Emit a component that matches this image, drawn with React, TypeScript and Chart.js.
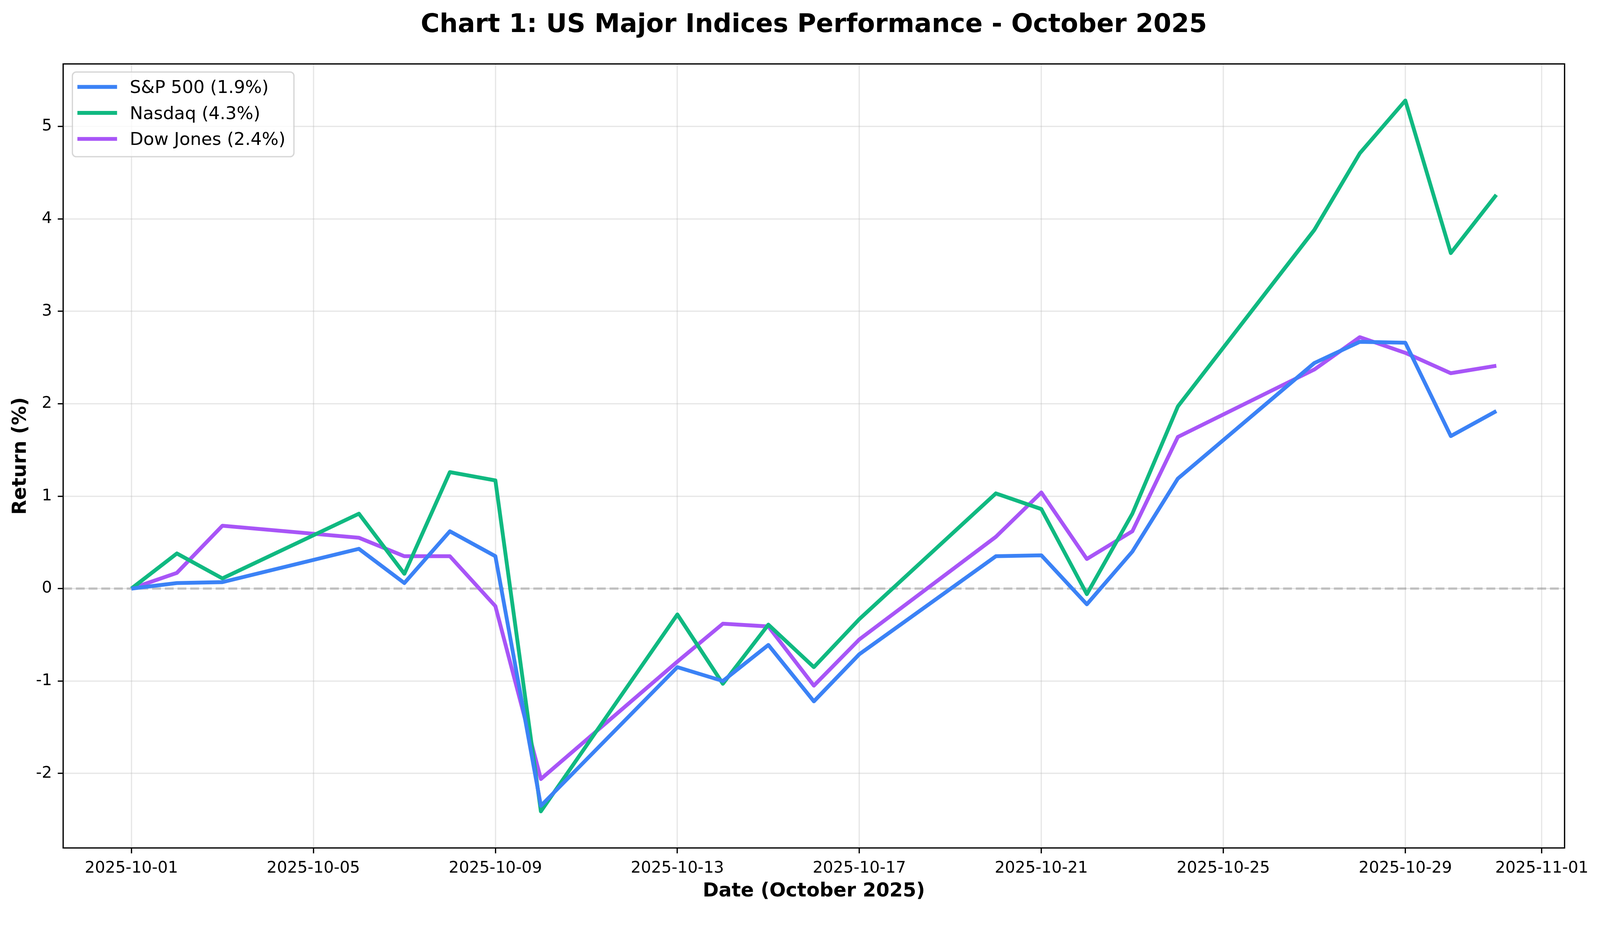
import React, { useEffect, useRef } from 'react';
import { Chart, registerables } from 'chart.js';

Chart.register(...registerables);

const W = 4155;
const H = 2368;

const dates = [
  '2025-10-01', '2025-10-02', '2025-10-03', '2025-10-06', '2025-10-07', '2025-10-08',
  '2025-10-09', '2025-10-10', '2025-10-13', '2025-10-14', '2025-10-15', '2025-10-16',
  '2025-10-17', '2025-10-20', '2025-10-21', '2025-10-22', '2025-10-23', '2025-10-24',
  '2025-10-27', '2025-10-28', '2025-10-29', '2025-10-30', '2025-10-31',
];
const sp500 = [0, 0.06, 0.07, 0.43, 0.06, 0.62, 0.35, -2.35, -0.85, -1.0, -0.61, -1.22, -0.71, 0.35, 0.36, -0.17, 0.4, 1.19, 2.44, 2.67, 2.66, 1.65, 1.92];
const nasdaq = [0, 0.38, 0.11, 0.81, 0.16, 1.26, 1.17, -2.41, -0.28, -1.03, -0.39, -0.85, -0.33, 1.03, 0.86, -0.06, 0.81, 1.97, 3.88, 4.71, 5.28, 3.63, 4.26];
const dow = [0, 0.17, 0.68, 0.55, 0.35, 0.35, -0.19, -2.06, -0.79, -0.38, -0.41, -1.05, -0.55, 0.56, 1.04, 0.32, 0.62, 1.64, 2.37, 2.72, 2.55, 2.33, 2.41];

const seriesLabels = ['S&P 500 (1.9%)', 'Nasdaq (4.3%)', 'Dow Jones (2.4%)'];
const seriesColors = ['#3b82f6', '#10b981', '#a855f7'];

const xTickLabels = ['2025-10-01', '2025-10-05', '2025-10-09', '2025-10-13', '2025-10-17', '2025-10-21', '2025-10-25', '2025-10-29', '2025-11-01'];
const yTicks = [-2, -1, 0, 1, 2, 3, 4, 5];

const chartTitle = 'Chart 1: US Major Indices Performance - October 2025';
const xTitle = 'Date (October 2025)';
const yTitle = 'Return (%)';

const DAY = 86400000;
const origin = Date.parse('2025-10-01T00:00:00Z');
const dayOf = (s: string) => (Date.parse(s + 'T00:00:00Z') - origin) / DAY;

const FONT = '"DejaVu Sans", sans-serif';

function makeDecor(k: number) {
  return {
    id: 'decor',
    beforeDatasetsDraw(chart: any) {
      const { ctx, chartArea: a, scales } = chart;
      const y0 = scales.y.getPixelForValue(0);
      ctx.save();
      ctx.beginPath();
      ctx.rect(a.left, a.top, a.right - a.left, a.bottom - a.top);
      ctx.clip();
      ctx.strokeStyle = 'rgba(128,128,128,0.4)';
      ctx.lineWidth = 6 * k;
      ctx.setLineDash([23 * k, 10 * k]);
      ctx.beginPath();
      ctx.moveTo(a.left, y0);
      ctx.lineTo(a.right, y0);
      ctx.stroke();
      ctx.restore();
    },
    afterDraw(chart: any) {
      const { ctx, chartArea: a } = chart;
      const cx = (a.left + a.right) / 2;
      const cy = (a.top + a.bottom) / 2;
      ctx.save();
      ctx.strokeStyle = '#000';
      ctx.lineWidth = 3.3 * k;
      ctx.setLineDash([]);
      ctx.strokeRect(a.left, a.top, a.right - a.left, a.bottom - a.top);

      ctx.fillStyle = '#000';
      ctx.textAlign = 'center';
      ctx.textBaseline = 'alphabetic';
      ctx.font = `bold ${66.7 * k}px ${FONT}`;
      ctx.fillText(chartTitle, cx, 83 * k);

      ctx.font = `bold ${50 * k}px ${FONT}`;
      ctx.fillText(xTitle, cx, 2328 * k);
      ctx.save();
      ctx.translate(67 * k, cy);
      ctx.rotate(-Math.PI / 2);
      ctx.fillText(yTitle, 0, 0);
      ctx.restore();

      const lx = a.left + 24 * k;
      const ly = a.top + 21 * k;
      ctx.font = `${45.8 * k}px ${FONT}`;
      const textX = lx + 149 * k;
      let maxW = 0;
      seriesLabels.forEach((l) => { maxW = Math.max(maxW, ctx.measureText(l).width); });
      const lw = textX - lx + maxW + 22 * k;
      const lh = 220 * k;
      ctx.beginPath();
      (ctx as any).roundRect(lx, ly, lw, lh, 10 * k);
      ctx.fillStyle = 'rgba(255,255,255,0.8)';
      ctx.fill();
      ctx.strokeStyle = 'rgba(204,204,204,0.8)';
      ctx.lineWidth = 3.3 * k;
      ctx.stroke();
      seriesLabels.forEach((l, i) => {
        const base = ly + (54.7 + i * 67.5) * k;
        const sy = base - 16 * k;
        ctx.strokeStyle = seriesColors[i];
        ctx.lineWidth = 10 * k;
        ctx.lineCap = 'butt';
        ctx.beginPath();
        ctx.moveTo(lx + 13 * k, sy);
        ctx.lineTo(lx + 116 * k, sy);
        ctx.stroke();
        ctx.fillStyle = '#000';
        ctx.textAlign = 'left';
        ctx.textBaseline = 'alphabetic';
        ctx.fillText(l, textX, base);
      });
      ctx.restore();
    },
  };
}

export default function App() {
  const ref = useRef<HTMLCanvasElement | null>(null);
  const boxRef = useRef<HTMLDivElement | null>(null);

  useEffect(() => {
    document.body.style.margin = '0';
    document.body.style.overflow = 'hidden';
    const canvas = ref.current;
    const box = boxRef.current;
    if (!canvas || !box) return;
    const k = Math.min(window.innerWidth / W, window.innerHeight / H);
    box.style.width = `${W * k}px`;
    box.style.height = `${H * k}px`;

    const series = [sp500, nasdaq, dow];
    const xTickValues = xTickLabels.map(dayOf);
    const gridOpts = {
      color: 'rgba(176,176,176,0.3)',
      lineWidth: 3.3 * k,
      tickColor: '#000',
      tickWidth: 3.3 * k,
      tickLength: 14 * k,
      drawTicks: true,
    };
    const chart = new Chart(canvas, {
      type: 'line',
      data: {
        datasets: series.map((vals, i) => ({
          label: seriesLabels[i],
          data: dates.map((d, j) => ({ x: dayOf(d), y: vals[j] })),
          borderColor: seriesColors[i],
          backgroundColor: seriesColors[i],
          borderWidth: 10 * k,
          pointRadius: 0,
          pointHoverRadius: 0,
          tension: 0,
          fill: false,
          borderJoinStyle: 'round',
          borderCapStyle: 'butt',
        })),
      },
      options: {
        animation: false,
        responsive: true,
        maintainAspectRatio: false,
        events: [],
        layout: { padding: { top: 166 * k, right: 92 * k, left: 0, bottom: 0 } },
        plugins: {
          legend: { display: false },
          title: { display: false },
          tooltip: { enabled: false },
        },
        scales: {
          x: {
            type: 'linear',
            min: -1.5,
            max: 31.5,
            afterBuildTicks: (scale: any) => {
              scale.ticks = xTickValues.map((v) => ({ value: v }));
            },
            afterFit: (scale: any) => {
              scale.height = 166 * k;
            },
            ticks: {
              autoSkip: false,
              maxRotation: 0,
              minRotation: 0,
              padding: 14 * k,
              color: '#000',
              font: { family: FONT, size: 41.7 * k },
              callback: (v: any) => {
                const idx = xTickValues.indexOf(Number(v));
                return idx >= 0 ? xTickLabels[idx] : '';
              },
            },
            grid: gridOpts,
            border: { display: false },
          },
          y: {
            type: 'linear',
            min: -2.806,
            max: 5.676,
            afterBuildTicks: (scale: any) => {
              scale.ticks = yTicks.map((v) => ({ value: v }));
            },
            afterFit: (scale: any) => {
              scale.width = 164 * k;
            },
            ticks: {
              padding: 15 * k,
              color: '#000',
              font: { family: FONT, size: 41.7 * k },
              callback: (v: any) => String(v),
            },
            grid: gridOpts,
            border: { display: false },
          },
        },
      },
      plugins: [makeDecor(k)],
    } as any);
    return () => chart.destroy();
  }, []);

  return (
    <div ref={boxRef} style={{ position: 'relative', width: '100vw', height: '100vh', background: '#fff' }}>
      <canvas ref={ref} style={{ display: 'block' }} />
    </div>
  );
}
